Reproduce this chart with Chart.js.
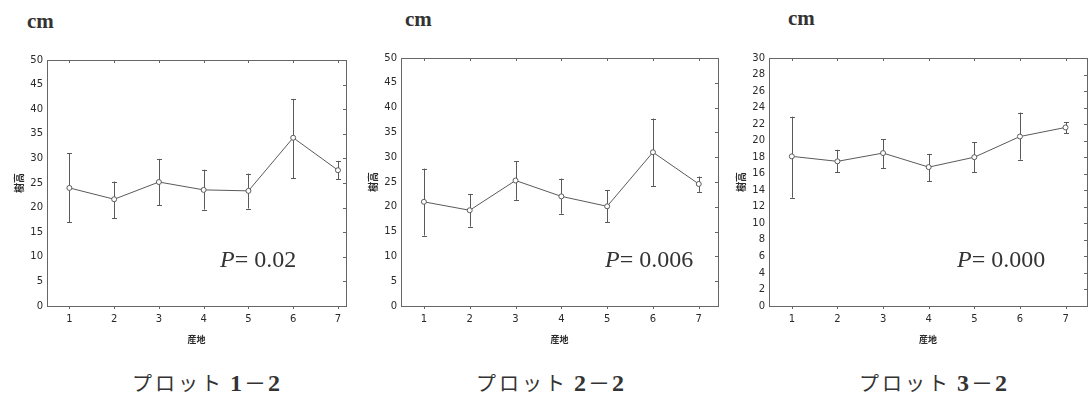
<!DOCTYPE html>
<html>
<head>
<meta charset="utf-8">
<script src="https://cdn.jsdelivr.net/npm/chart.js@4"></script>
<style>
  body { margin: 0; background: #fff; }
  #page { position: relative; width: 1092px; height: 396px; overflow: hidden; background: #fff; }
  .box { position: absolute; }
  .unit { position: absolute; font-family: "Liberation Serif", serif; font-weight: bold; font-size: 21px; color: #333; line-height: 21px; }
  .pval { position: absolute; font-family: "Liberation Serif", serif; font-size: 24px; color: #333; line-height: 24px; white-space: nowrap; }
  .pval i { font-style: italic; }
  .cap { position: absolute; width: 300px; text-align: center; line-height: 26px; color: #333; white-space: nowrap; }
  .cap .kana { font-family: "Noto Sans CJK JP", sans-serif; font-size: 20px; letter-spacing: 3px; margin-right: 6px; }
  .cap .num { font-family: "Liberation Serif", serif; font-weight: bold; font-size: 24px; }
  .cap .dash { font-family: "Noto Sans CJK JP", sans-serif; font-size: 22px; margin: 0 2px; }
</style>
</head>
<body>
<div id="page">
  <div class="unit" style="left:27px; top:11px;">cm</div>
  <div class="unit" style="left:405px; top:9px;">cm</div>
  <div class="unit" style="left:788px; top:8px;">cm</div>

  <div class="box" style="left:13px; top:50px; width:338px; height:301px;"><canvas id="plot1"></canvas></div>
  <div class="box" style="left:367px; top:48px; width:356px; height:303px;"><canvas id="plot2"></canvas></div>
  <div class="box" style="left:735px; top:48px; width:357px; height:303px;"><canvas id="plot3"></canvas></div>

  <div class="pval" style="left:220px; top:247px;"><i>P</i>= 0.02</div>
  <div class="pval" style="left:605px; top:247px;"><i>P</i>= 0.006</div>
  <div class="pval" style="left:957px; top:247px;"><i>P</i>= 0.000</div>

  <div class="cap" style="left:56px; top:368px;"><span class="kana">プロット</span><span class="num">1</span><span class="dash">－</span><span class="num">2</span></div>
  <div class="cap" style="left:400px; top:368px;"><span class="kana">プロット</span><span class="num">2</span><span class="dash">－</span><span class="num">2</span></div>
  <div class="cap" style="left:783px; top:368px;"><span class="kana">プロット</span><span class="num">3</span><span class="dash">－</span><span class="num">2</span></div>
</div>

<script>
// data (tree height by seed origin, mean with error bars)
const sites = [1, 2, 3, 4, 5, 6, 7];

const mean1  = [24.0, 21.7, 25.2, 23.6, 23.4, 34.2, 27.6];
const upper1 = [31.0, 25.3, 29.9, 27.7, 26.9, 42.1, 29.5];
const lower1 = [17.0, 17.8, 20.5, 19.6, 19.8, 26.0, 25.8];

const mean2  = [21.0, 19.3, 25.3, 22.1, 20.1, 31.0, 24.6];
const upper2 = [27.7, 22.6, 29.2, 25.7, 23.4, 37.8, 26.1];
const lower2 = [14.2, 16.0, 21.4, 18.6, 16.9, 24.2, 23.0];

const mean3  = [18.1, 17.5, 18.5, 16.8, 18.0, 20.5, 21.6];
const upper3 = [22.9, 18.9, 20.2, 18.4, 19.8, 23.4, 22.2];
const lower3 = [13.1, 16.2, 16.7, 15.1, 16.2, 17.7, 20.9];

const yTicks50 = [0, 5, 10, 15, 20, 25, 30, 35, 40, 45, 50];
const yTicks30 = [0, 2, 4, 6, 8, 10, 12, 14, 16, 18, 20, 22, 24, 26, 28, 30];

const xTitle = "産地";
const yTitle = "樹高";

const lineGray = "#5a5a5a";
const axisGray = "#666";
const textGray = "#2a2a2a";

// error bars + frame, drawn through the chart scales
const errorBarPlugin = {
  id: "errorBars",
  beforeDatasetsDraw(chart, args, opts) {
    const ctx = chart.ctx;
    const xs = chart.scales.x, ys = chart.scales.y;
    ctx.save();
    ctx.strokeStyle = lineGray;
    ctx.lineWidth = 1;
    sites.forEach((s, i) => {
      const x = Math.round(xs.getPixelForValue(s)) + 0.5;
      const yHi = ys.getPixelForValue(opts.upper[i]);
      const yLo = ys.getPixelForValue(opts.lower[i]);
      ctx.beginPath();
      ctx.moveTo(x, yHi); ctx.lineTo(x, yLo);
      ctx.moveTo(x - 2.5, Math.round(yHi) + 0.5); ctx.lineTo(x + 2.5, Math.round(yHi) + 0.5);
      ctx.moveTo(x - 2.5, Math.round(yLo) + 0.5); ctx.lineTo(x + 2.5, Math.round(yLo) + 0.5);
      ctx.stroke();
    });
    ctx.restore();
  },
  afterDraw(chart) {
    const ctx = chart.ctx;
    const a = chart.chartArea;
    const xs = chart.scales.x, ys = chart.scales.y;
    ctx.save();
    ctx.strokeStyle = axisGray;
    ctx.lineWidth = 1;
    ctx.strokeRect(Math.round(a.left) + 0.5, Math.round(a.top) + 0.5,
                   Math.round(a.right - a.left), Math.round(a.bottom - a.top));
    ctx.beginPath();
    sites.forEach(s => {
      const x = Math.round(xs.getPixelForValue(s)) + 0.5;
      ctx.moveTo(x, a.top); ctx.lineTo(x, a.top + 3);
      ctx.moveTo(x, a.bottom); ctx.lineTo(x, a.bottom + 3);
    });
    ys.ticks.forEach(t => {
      const y = Math.round(ys.getPixelForValue(t.value)) + 0.5;
      ctx.moveTo(a.right, y); ctx.lineTo(a.right - 3, y);
    });
    ctx.stroke();
    ctx.restore();
  }
};

function makePlot(id, mean, upper, lower, yTicks, xMax, axisW) {
  new Chart(document.getElementById(id), {
    type: "line",
    data: {
      datasets: [{
        data: sites.map((s, i) => ({ x: s, y: mean[i] })),
        borderColor: lineGray,
        borderWidth: 1,
        pointRadius: 2.5,
        pointBorderWidth: 1,
        pointBackgroundColor: "#fff",
        pointBorderColor: lineGray,
        tension: 0
      }]
    },
    options: {
      responsive: true,
      maintainAspectRatio: false,
      animation: false,
      events: [],
      layout: { padding: { top: 10, right: 2, left: 0, bottom: 0 } },
      plugins: {
        legend: { display: false },
        tooltip: { enabled: false },
        errorBars: { upper: upper, lower: lower }
      },
      scales: {
        x: {
          type: "linear",
          min: 0.5,
          max: xMax,
          afterBuildTicks: s => { s.ticks = sites.map(v => ({ value: v })); },
          afterFit: s => { s.height = 45; },
          grid: { display: false, drawTicks: false },
          border: { display: false },
          ticks: { padding: 7, color: textGray, font: { family: "DejaVu Sans", size: 10 } },
          title: { display: true, text: xTitle, color: textGray, padding: { top: 0, bottom: 6 },
                   font: { family: "Noto Sans CJK JP", size: 9, weight: "bold" } }
        },
        y: {
          min: 0,
          max: yTicks[yTicks.length - 1],
          afterBuildTicks: s => { s.ticks = yTicks.map(v => ({ value: v })); },
          afterFit: s => { s.width = axisW; },
          grid: { display: false, drawTicks: false },
          border: { display: false },
          ticks: { padding: 4, color: textGray, font: { family: "DejaVu Sans", size: 10 } },
          title: { display: true, text: yTitle, color: textGray, padding: 0,
                   font: { family: "Noto Sans CJK JP", size: 10, weight: "bold" } }
        }
      }
    },
    plugins: [errorBarPlugin]
  });
}

makePlot("plot1", mean1, upper1, lower1, yTicks50, 7.18, 34);
makePlot("plot2", mean2, upper2, lower2, yTicks50, 7.42, 34);
makePlot("plot3", mean3, upper3, lower3, yTicks30, 7.47, 34);
</script>
</body>
</html>
